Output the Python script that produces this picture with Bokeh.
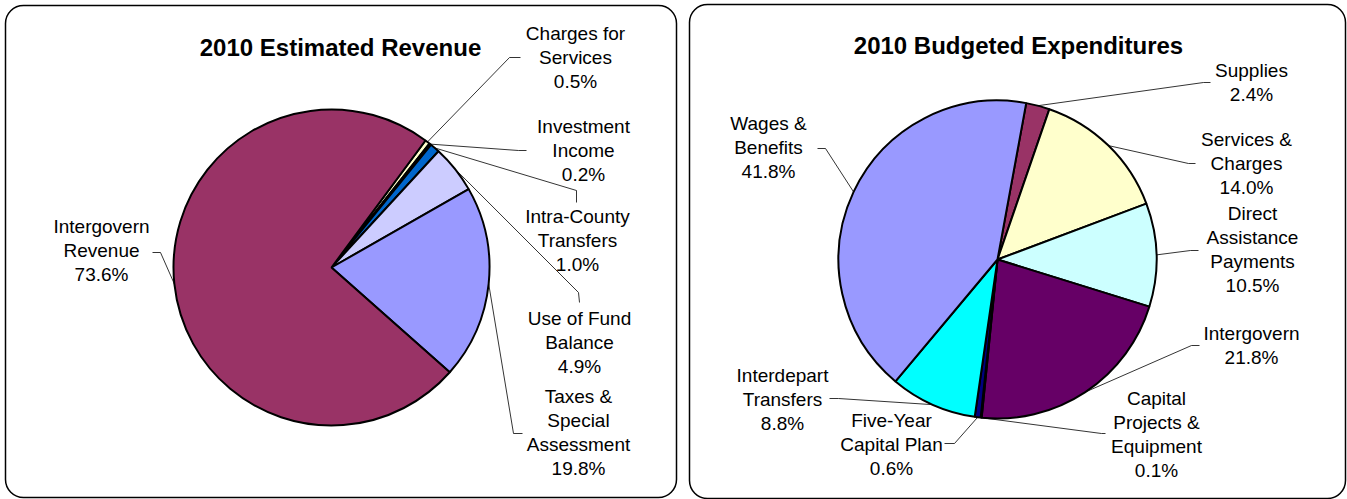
import math
from bokeh.plotting import figure
from bokeh.models import Range1d, BoxAnnotation, ColumnDataSource
from bokeh.core.properties import value
from bokeh.embed import file_html
from bokeh.resources import INLINE

# ---------------- data ----------------
rev_title = "2010 Estimated Revenue"
rev_labels = ["Charges for\nServices", "Investment\nIncome", "Intra-County\nTransfers",
              "Use of Fund\nBalance", "Taxes &\nSpecial\nAssessment", "Intergovern\nRevenue"]
rev_values = [0.5, 0.2, 1.0, 4.9, 19.8, 73.6]
rev_colors = ["#FFFFCC", "#1A1A66", "#0066CC", "#CCCCFF", "#9999FF", "#993366"]

exp_title = "2010 Budgeted Expenditures"
exp_labels = ["Supplies", "Services &\nCharges", "Direct\nAssistance\nPayments", "Intergovern",
              "Capital\nProjects &\nEquipment", "Five-Year\nCapital Plan", "Interdepart\nTransfers",
              "Wages &\nBenefits"]
exp_values = [2.4, 14.0, 10.5, 21.8, 0.1, 0.6, 8.8, 41.8]
exp_colors = ["#993366", "#FFFFCC", "#CCFFFF", "#660066", "#CCCCFF", "#000080", "#00FFFF", "#9999FF"]

# ---------------- layout (page pixel coordinates) ----------------
W, H = 1347, 499
PAGE_H = 499

def Y(py):
    return PAGE_H - py

FONT = "Liberation Sans"
LABEL_SIZE = "19px"
LINE_PITCH = 23.7

panels = [
    dict(title=rev_title, labels=rev_labels, values=rev_values, colors=rev_colors,
         cx=331, cy=267, r=158, start=36.5, title_xy=(340, 47),
         box=(5, 676, 5, 497),
         label_xy=[(575, 57), (583, 150), (577, 240), (579, 342), (578, 432), (101, 250)],
         leaders=[[(509, 57), (520, 57)], [(518, 150), (526, 150)],
                  [(576, 190), (576, 202)], [(578, 292), (579, 302)],
                  [(513, 433), (522, 433)], [(160, 252), (152, 252)]]),
    dict(title=exp_title, labels=exp_labels, values=exp_values, colors=exp_colors,
         cx=997, cy=259, r=159, start=10.4, title_xy=(1018, 45),
         box=(689, 1345, 4, 498),
         label_xy=[(1251, 82), (1246, 163), (1252, 249), (1251, 345), (1156, 434),
                   (891, 444), (782, 399), (768, 147)],
         leaders=[[(1203, 82), (1210, 82)], [(1188, 163), (1195, 163)],
                  [(1190, 250), (1198, 250)], [(1191, 345), (1199, 345)],
                  [(1101, 433), (1105, 433)], [(954, 443), (944, 443)],
                  [(838, 398), (829, 398)], [(825, 148), (817, 148)]]),
]

p = figure(width=W, height=H, output_backend="svg", toolbar_location=None,
           x_range=Range1d(0, W), y_range=Range1d(Y(H), Y(0)),
           min_border=0, min_border_left=0, min_border_right=0,
           min_border_top=0, min_border_bottom=0)
p.axis.visible = False
p.grid.visible = False
p.outline_line_color = None
p.background_fill_color = "white"
p.border_fill_color = "white"

for pan in panels:
    l, r_, t, b = pan["box"]
    p.add_layout(BoxAnnotation(left=l, right=r_, top=Y(t), bottom=Y(b),
                               fill_color=None, fill_alpha=0, line_color="black",
                               line_alpha=1.0, line_width=1.5, border_radius=18))

    vals = pan["values"]
    total = sum(vals)
    a = pan["start"]
    starts, ends, mids = [], [], []
    for v in vals:
        a1 = a + 360.0 * v / total
        starts.append(math.radians(90 - a))
        ends.append(math.radians(90 - a1))
        mids.append((a + a1) / 2)
        a = a1
    cx, cy, rad = pan["cx"], Y(pan["cy"]), pan["r"]
    src = ColumnDataSource(dict(x=[cx] * len(vals), y=[cy] * len(vals),
                                s=starts, e=ends, c=pan["colors"]))
    p.wedge(x="x", y="y", radius=rad, start_angle="s", end_angle="e",
            direction="clock", fill_color="c", line_color="black", line_width=2,
            source=src)

    # leader lines
    xs, ys = [], []
    for m, pts in zip(mids, pan["leaders"]):
        ex = cx + rad * math.sin(math.radians(m))
        ey = cy + rad * math.cos(math.radians(m))
        xs.append([ex] + [q[0] for q in pts])
        ys.append([ey] + [Y(q[1]) for q in pts])
    p.multi_line(xs, ys, line_color="black", line_width=0.8)

    # labels
    tx, ty, tt = [], [], []
    for lab, v, (lx, ly) in zip(pan["labels"], vals, pan["label_xy"]):
        lines = lab.split("\n") + [f"{v:.1f}%"]
        n = len(lines)
        for i, s in enumerate(lines):
            tx.append(lx)
            ty.append(Y(ly + (i - (n - 1) / 2) * LINE_PITCH))
            tt.append(s)
    p.text(tx, ty, text=tt, text_font=value(FONT), text_font_size=LABEL_SIZE,
           text_align="center", text_baseline="middle", text_color="black")

    p.text([pan["title_xy"][0]], [Y(pan["title_xy"][1])], text=[pan["title"]],
           text_font=value(FONT), text_font_size="24px", text_font_style="bold",
           text_align="center", text_baseline="middle", text_color="black")

open("out.html", "w").write(file_html(p, INLINE))
